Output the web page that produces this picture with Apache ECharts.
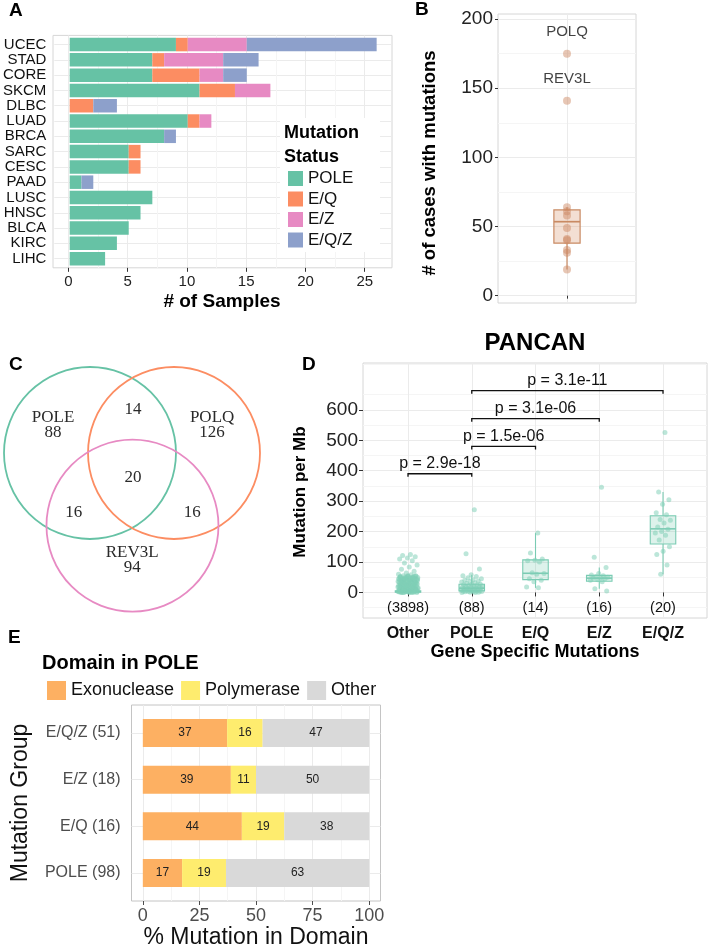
<!DOCTYPE html>
<html><head><meta charset="utf-8">
<script src="https://cdn.jsdelivr.net/npm/echarts@6/dist/echarts.min.js"></script>
<style>html,body{margin:0;padding:0;background:#fff}#c{width:709px;height:949px}</style>
</head><body><div id="c"></div>
<script>
// ---------------- DATA ----------------
// Panel A
const aCategories = ['UCEC','STAD','CORE','SKCM','DLBC','LUAD','BRCA','SARC','CESC','PAAD','LUSC','HNSC','BLCA','KIRC','LIHC'];
const aPOLE = [9,7,7,11,0,10,8,5,5,1,7,6,5,4,3];
const aEQ   = [1,1,4,3,2,1,0,1,1,0,0,0,0,0,0];
const aEZ   = [5,5,2,3,0,1,0,0,0,0,0,0,0,0,0];
const aEQZ  = [11,3,2,0,2,0,1,0,0,1,0,0,0,0,0];
const aStatus = ['POLE','E/Q','E/Z','E/Q/Z'];
const aTicks = [0,5,10,15,20,25];
// Panel B
const bLabelGenes = ['POLQ','REV3L'];
const bLabelValues = [175,141];
const bOtherValues = [64,61,58,49,41,40,33,31,19];
const bBox = [19,38,53.5,62,64]; // lower whisker, q1, median, q3, upper whisker
const bTicks = [0,50,100,150,200];
// Panel C (Venn counts)
const vennSetNames = ['POLE','POLQ','REV3L'];
const vennOnly = [88,126,94];
const vennPairs = [14,16,16];   // POLE&POLQ, POLE&REV3L, POLQ&REV3L
const vennAll = 20;
// Panel D
const dCategories = ['Other','POLE','E/Q','E/Z','E/Q/Z'];
const dCounts = [3898,88,14,16,20];
const dBoxStats = [ // lower whisker, q1, median, q3, upper whisker
  [0,1,2.5,5,12],
  [0,5,14,27,58],
  [15,42,63,107,195],
  [12,37,47,56,82],
  [60,159,209,252,330]
];
const dOther = [125,121,117,113,110,104,97,90,84,76,70,64,60,58,
  55,54,53,52,51,50,49,48,47,46,45,44,43,42,41,40,39,38,37,36,35,34,33,32,31,30,29,28,27,26,25,24,23,22,21,20,19,18,17,16,15,14,13,12,11,10,9,8,7,6,5,4,3,2,1,0,
  54,52,50,48,46,44,42,40,38,36,34,32,30,28,26,24,22,20,18,16,14,12,10,8,6,4,2,1,0,
  53,49,45,41,37,33,29,25,21,17,13,9,7,5,3,2,1,0,0,1,2,3,4,5,6,8,10,
  55,51,47,43,39,35,31,27,23,19,15,11,7,3,1,0];
const dPole = [272,127,77,58,55,52,48,45,42,40,38,36,34,32,30,28,27,25,24,22,21,20,19,18,17,16,15,14,13,12,11,10,9,8,7,6,5,5,4,4,3,3,2,2,1,1,0,0];
const dEQ = [195,130,110,106,104,100,65,62,60,45,40,35,18,15];
const dEZ = [346,116,82,62,57,55,52,50,48,47,45,42,40,35,12,5];
const dEQZ = [526,330,305,290,262,255,240,237,228,215,208,200,195,188,172,150,135,125,90,60];
const dBracketFrom = ['Other','POLE','POLE','POLE'];
const dBracketTo = ['POLE','E/Q','E/Z','E/Q/Z'];
const dBracketY = [390,480,571,663];
const dPValues = ['2.9e-18','1.5e-06','3.1e-06','3.1e-11'];
const dYTicks = [0,100,200,300,400,500,600];
// Panel E
const eGroups = ['E/Q/Z (51)','E/Z (18)','E/Q (16)','POLE (98)'];
const eDomains = ['Exonuclease','Polymerase','Other'];
const eExo = [37.25,38.89,43.75,17.35];
const ePoly = [15.69,11.11,18.75,19.39];
const eOther = [47.06,50.0,37.5,63.27];
const eTicks = [0,25,50,75,100];
const eMinor = [12.5,37.5,62.5,87.5];

// ---------------- STYLE / LAYOUT ----------------
const FONT = '"Liberation Sans", Arial, Helvetica, sans-serif';
const SERIF = '"Liberation Serif", "Times New Roman", serif';
const GM = '#ebebeb', GN = '#f5f5f5';
const aColors = ['#66c2a5','#fc8d62','#e78ac3','#8da0cb'];
const eColors = ['#fdb062','#feec6e','#d9d9d9'];
const vennColors = ['#66c2a5','#fc8d62','#e78ac3'];
// Venn geometry in unit-radius space
const vennCenters = [[0,0],[0.977,0],[0.494,-0.845]];
const vennSetLabelPos = [[-0.43,0.33],[1.42,0.33],[0.49,-1.25]];
const vennPairLabelPos = [[0.5,0.5],[-0.19,-0.69],[1.19,-0.69]];
const vennAllPos = [0.5,-0.29];

function jit(i, w){ return (((i + 1) * 0.6180339887) % 1 - 0.5) * 2 * w; }

function boxRender(halfW, stroke, fill, lw){
  return function(params, api){
    const x=api.value(0), lo=api.value(1), q1=api.value(2), md=api.value(3), q3=api.value(4), hi=api.value(5);
    const tl = api.coord([x-halfW, q3]), br = api.coord([x+halfW, q1]);
    const cTop = api.coord([x, hi]), cBot = api.coord([x, lo]);
    const mL = api.coord([x-halfW, md]), mR = api.coord([x+halfW, md]);
    const st = {stroke: stroke, lineWidth: lw, fill: null};
    return {type:'group', children:[
      {type:'line', shape:{x1:cTop[0], y1:cTop[1], x2:cTop[0], y2:tl[1]}, style:st},
      {type:'line', shape:{x1:cBot[0], y1:cBot[1], x2:cBot[0], y2:br[1]}, style:st},
      {type:'rect', shape:{x:tl[0], y:tl[1], width:br[0]-tl[0], height:br[1]-tl[1]}, style:{stroke:stroke, lineWidth:lw, fill:fill}},
      {type:'line', shape:{x1:mL[0], y1:mL[1], x2:mR[0], y2:mR[1]}, style:{stroke:stroke, lineWidth:lw*1.4}}
    ]};
  };
}

// D scatter points
const dGroups = [dOther, dPole, dEQ, dEZ, dEQZ];
const dJitW = [0.16,0.17,0.15,0.15,0.13];
const dPts = [];
dGroups.forEach((arr, k) => arr.forEach((v, i) => dPts.push([k + 1 + jit(i, dJitW[k]), v])));

const hiddenVal = (g, mn, mx) => ({gridIndex:g, type:'value', show:false, min:mn, max:mx});

const option = {
  animation: false,
  backgroundColor: '#fff',
  textStyle: {fontFamily: FONT},
  grid: [
    {left:53, top:35.4, width:339, height:232.4, show:true, borderColor:'#d6d6d6', borderWidth:1},   //0 A frame
    {left:53, top:36.93, width:339, height:229.35},                                                 //1 A data
    {left:498, top:14, width:138, height:289, show:true, borderColor:'#d6d6d6', borderWidth:1},     //2 B
    {left:4, top:367, width:256, height:244},                                                       //3 C
    {left:363, top:363, width:344, height:255, show:true, borderColor:'#d6d6d6', borderWidth:1},    //4 D
    {left:131.5, top:705, width:249, height:196, show:true, borderColor:'#c4c4c4', borderWidth:1},  //5 E frame
    {left:131.5, top:709.67, width:249, height:186.67}                                              //6 E data
  ],
  xAxis: [
    {gridIndex:0, type:'value', min:-1.3, max:27.3, axisLine:{show:false},
      axisTick:{length:4, customValues:aTicks, lineStyle:{color:'#333'}},
      axisLabel:{customValues:aTicks, fontSize:15, color:'#222', margin:7},
      splitLine:{show:true, customValues:aTicks, lineStyle:{color:GM}},
      minorTick:{show:false, splitNumber:2}, minorSplitLine:{show:true, lineStyle:{color:GN}}},
    hiddenVal(1, -1.3, 27.3),
    {gridIndex:2, type:'value', min:0, max:2, axisLine:{show:false},
      axisTick:{length:3, customValues:[1], lineStyle:{color:'#333'}},
      axisLabel:{show:false}, splitLine:{show:true, customValues:[1], lineStyle:{color:GM}}},
    hiddenVal(3, -1, 1.977),
    {gridIndex:4, type:'value', min:0.294, max:5.69, axisLine:{show:false},
      axisTick:{length:4, customValues:[1,2,3,4,5], lineStyle:{color:'#333'}},
      axisLabel:{customValues:[1,2,3,4,5], formatter: v => dCategories[Math.round(v)-1], fontSize:16, fontWeight:'bold', color:'#111', margin:8},
      splitLine:{show:true, customValues:[1,2,3,4,5], lineStyle:{color:GM}}},
    {gridIndex:5, type:'value', min:-5, max:105, axisLine:{show:false},
      axisTick:{length:4, customValues:eTicks, lineStyle:{color:'#4d4d4d'}},
      axisLabel:{customValues:eTicks, fontSize:18, color:'#4d4d4d', margin:6},
      splitLine:{show:true, customValues:eTicks, lineStyle:{color:GM}}},
    {gridIndex:5, type:'value', min:-5, max:105, position:'bottom', axisLine:{show:false},
      axisTick:{show:false, customValues:eMinor}, axisLabel:{show:false},
      splitLine:{show:true, customValues:eMinor, lineStyle:{color:GN}}},
    hiddenVal(6, -5, 105)
  ],
  yAxis: [
    hiddenVal(0, 0, 1),
    {gridIndex:1, type:'category', data:aCategories, inverse:true, axisLine:{show:false},
      axisTick:{length:5, interval:0, alignWithLabel:true, lineStyle:{color:'#333'}},
      axisLabel:{interval:0, fontSize:15, color:'#111', margin:8},
      splitLine:{show:true, interval:0, alignWithLabel:true, lineStyle:{color:GM}}},
    {gridIndex:2, type:'value', min:-5.3, max:203.7, axisLine:{show:false},
      axisTick:{length:3, customValues:bTicks, lineStyle:{color:'#333'}},
      axisLabel:{customValues:bTicks, fontSize:19, color:'#222', margin:5},
      splitLine:{show:true, customValues:bTicks, lineStyle:{color:GM}},
      minorTick:{show:false, splitNumber:2}, minorSplitLine:{show:true, lineStyle:{color:GN}}},
    hiddenVal(3, -1.837, 1),
    {gridIndex:4, type:'value', min:-84, max:754, splitNumber:8, axisLine:{show:false},
      axisTick:{length:4, customValues:dYTicks, lineStyle:{color:'#333'}},
      axisLabel:{customValues:dYTicks, fontSize:19, color:'#222', margin:5},
      splitLine:{show:true, customValues:dYTicks, lineStyle:{color:GM}},
      minorTick:{show:false, splitNumber:2}, minorSplitLine:{show:true, lineStyle:{color:GN}}},
    hiddenVal(5, 0, 1),
    {gridIndex:6, type:'category', data:eGroups, inverse:true, axisLine:{show:false},
      axisTick:{length:5, interval:0, alignWithLabel:true, lineStyle:{color:'#4d4d4d'}},
      axisLabel:{interval:0, fontSize:16, color:'#4d4d4d', margin:11},
      splitLine:{show:true, interval:0, alignWithLabel:true, lineStyle:{color:GM}}}
  ],
  legend: [
    {data:aStatus, orient:'vertical', left:283, top:165, itemWidth:15, itemHeight:15, itemGap:3.5, icon:'rect',
      selectedMode:false, z:30, textStyle:{fontSize:17, color:'#111', fontFamily:FONT}},
    {data:eDomains, orient:'horizontal', left:42, top:676, itemWidth:19, itemHeight:19, itemGap:7, icon:'rect',
      selectedMode:false, z:30, textStyle:{fontSize:18, color:'#111', fontFamily:FONT}}
  ],
  graphic: [
    {type:'rect', z:20, shape:{x:280, y:118, width:100, height:134}, style:{fill:'#fff'}},
    {type:'text', z:30, x:9, y:11, style:{text:'A', font:'bold 19px '+FONT, fill:'#000', verticalAlign:'middle'}},
    {type:'text', z:30, x:415, y:10, style:{text:'B', font:'bold 19px '+FONT, fill:'#000', verticalAlign:'middle'}},
    {type:'text', z:30, x:9, y:365, style:{text:'C', font:'bold 19px '+FONT, fill:'#000', verticalAlign:'middle'}},
    {type:'text', z:30, x:302, y:365, style:{text:'D', font:'bold 19px '+FONT, fill:'#000', verticalAlign:'middle'}},
    {type:'text', z:30, x:8, y:638, style:{text:'E', font:'bold 19px '+FONT, fill:'#000', verticalAlign:'middle'}},
    {type:'text', z:30, x:222, y:302, style:{text:'# of Samples', font:'bold 19px '+FONT, fill:'#000', align:'center', verticalAlign:'middle'}},
    {type:'text', z:30, x:284, y:145, style:{text:'Mutation\nStatus', font:'bold 18px '+FONT, lineHeight:24, fill:'#000', verticalAlign:'middle'}},
    {type:'text', z:30, x:430, y:163, rotation:Math.PI/2, style:{text:'# of cases with mutations', font:'bold 18.5px '+FONT, fill:'#000', align:'center', verticalAlign:'middle'}},
    {type:'text', z:30, x:535, y:343, style:{text:'PANCAN', font:'bold 24px '+FONT, fill:'#000', align:'center', verticalAlign:'middle'}},
    {type:'text', z:30, x:300, y:492, rotation:Math.PI/2, style:{text:'Mutation per Mb', font:'bold 17px '+FONT, fill:'#000', align:'center', verticalAlign:'middle'}},
    {type:'text', z:30, x:535, y:652, style:{text:'Gene Specific Mutations', font:'bold 18px '+FONT, fill:'#000', align:'center', verticalAlign:'middle'}},
    {type:'text', z:30, x:42, y:663, style:{text:'Domain in POLE', font:'bold 20px '+FONT, fill:'#000', verticalAlign:'middle'}},
    {type:'text', z:30, x:21, y:803, rotation:Math.PI/2, style:{text:'Mutation Group', font:'23px '+FONT, fill:'#111', align:'center', verticalAlign:'middle'}},
    {type:'text', z:30, x:256, y:938, style:{text:'% Mutation in Domain', font:'23px '+FONT, fill:'#111', align:'center', verticalAlign:'middle'}}
  ],
  series: [
    // ---- A
    ...[aPOLE, aEQ, aEZ, aEQZ].map((arr, k) => ({
      name: aStatus[k], type:'bar', xAxisIndex:1, yAxisIndex:1, stack:'a', barWidth:13.5,
      itemStyle:{color:aColors[k]}, data: arr
    })),
    // ---- B
    {type:'custom', xAxisIndex:2, yAxisIndex:2, renderItem: boxRender(0.19, '#c98a63', 'rgba(214,150,110,0.3)', 1.2),
      data:[[1].concat(bBox)], z:2},
    {type:'scatter', xAxisIndex:2, yAxisIndex:2, symbolSize:8, itemStyle:{color:'rgba(205,135,98,0.6)'},
      data: bOtherValues.map(v => [1, v]), z:3},
    {type:'scatter', xAxisIndex:2, yAxisIndex:2, symbolSize:8, itemStyle:{color:'rgba(205,135,98,0.6)'},
      label:{show:true, position:'top', distance:10, formatter:'{b}', fontSize:15, color:'#111', fontFamily:FONT},
      data: bLabelGenes.map((g, i) => ({name:g, value:[1, bLabelValues[i]]})), z:3},
    // ---- C
    {type:'custom', xAxisIndex:3, yAxisIndex:3, data: vennSetNames.map((n, i) => [i]),
      renderItem: function(params, api){
        const i = api.value(0);
        const c = api.coord(vennCenters[i]);
        const r = api.size([1, 0])[0];
        return {type:'circle', shape:{cx:c[0], cy:c[1], r:r}, style:{stroke:vennColors[i], lineWidth:1.8, fill:null}};
      }},
    {type:'custom', xAxisIndex:3, yAxisIndex:3, data: [0,1,2,3,4,5,6].map(i => [i]),
      renderItem: function(params, api){
        const i = api.value(0);
        let pos, txt;
        if (i < 3) { pos = vennSetLabelPos[i]; txt = vennSetNames[i] + '\n' + vennOnly[i]; }
        else if (i < 6) { pos = vennPairLabelPos[i-3]; txt = String(vennPairs[i-3]); }
        else { pos = vennAllPos; txt = String(vennAll); }
        const p = api.coord(pos);
        return {type:'text', x:p[0], y:p[1], style:{text:txt, font:'17px '+SERIF, lineHeight:15, fill:'#2a2a2a', align:'center', verticalAlign:'middle'}};
      }},
    // ---- D
    {type:'custom', xAxisIndex:4, yAxisIndex:4, renderItem: boxRender(0.2, '#7acbb3', 'rgba(102,194,165,0.22)', 1.1),
      data: dBoxStats.map((s, k) => [k+1].concat(s)), z:2},
    {type:'scatter', xAxisIndex:4, yAxisIndex:4, symbolSize:5, itemStyle:{color:'rgba(127,207,182,0.65)'},
      data: dPts, z:3},
    {type:'custom', xAxisIndex:4, yAxisIndex:4, z:4,
      data: dBracketY.map((y, i) => [dCategories.indexOf(dBracketFrom[i]) + 1, dCategories.indexOf(dBracketTo[i]) + 1, y, i]),
      renderItem: function(params, api){
        const x1 = api.value(0), x2 = api.value(1), y = api.value(2), i = api.value(3);
        const a = api.coord([x1, y - 10]), b = api.coord([x1, y]), c = api.coord([x2, y]), d = api.coord([x2, y - 10]);
        return {type:'group', children:[
          {type:'polyline', shape:{points:[a, b, c, d]}, style:{stroke:'#111', lineWidth:1.3, fill:null}},
          {type:'text', x:(b[0]+c[0])/2, y:b[1]-10, style:{text:'p = ' + dPValues[i], font:'16px '+FONT, fill:'#111', align:'center', verticalAlign:'middle'}}
        ]};
      }},
    {type:'custom', xAxisIndex:4, yAxisIndex:4, z:4,
      data: dCounts.map((n, k) => [k+1, -51, n]),
      renderItem: function(params, api){
        const p = api.coord([api.value(0), api.value(1)]);
        return {type:'text', x:p[0], y:p[1], style:{text:'(' + api.value(2) + ')', font:'14.5px '+FONT, fill:'#111', align:'center', verticalAlign:'middle'}};
      }},
    // ---- E
    ...[eExo, ePoly, eOther].map((arr, k) => ({
      name: eDomains[k], type:'bar', xAxisIndex:7, yAxisIndex:6, stack:'e', barWidth:28,
      itemStyle:{color:eColors[k]},
      label:{show:true, position:'inside', formatter: p => Math.round(p.value), fontSize:12, color:'#222', fontFamily:FONT},
      data: arr
    }))
  ]
};
const chart = echarts.init(document.getElementById('c'), null, {renderer:'canvas'});
chart.setOption(option);
</script>
</body></html>
